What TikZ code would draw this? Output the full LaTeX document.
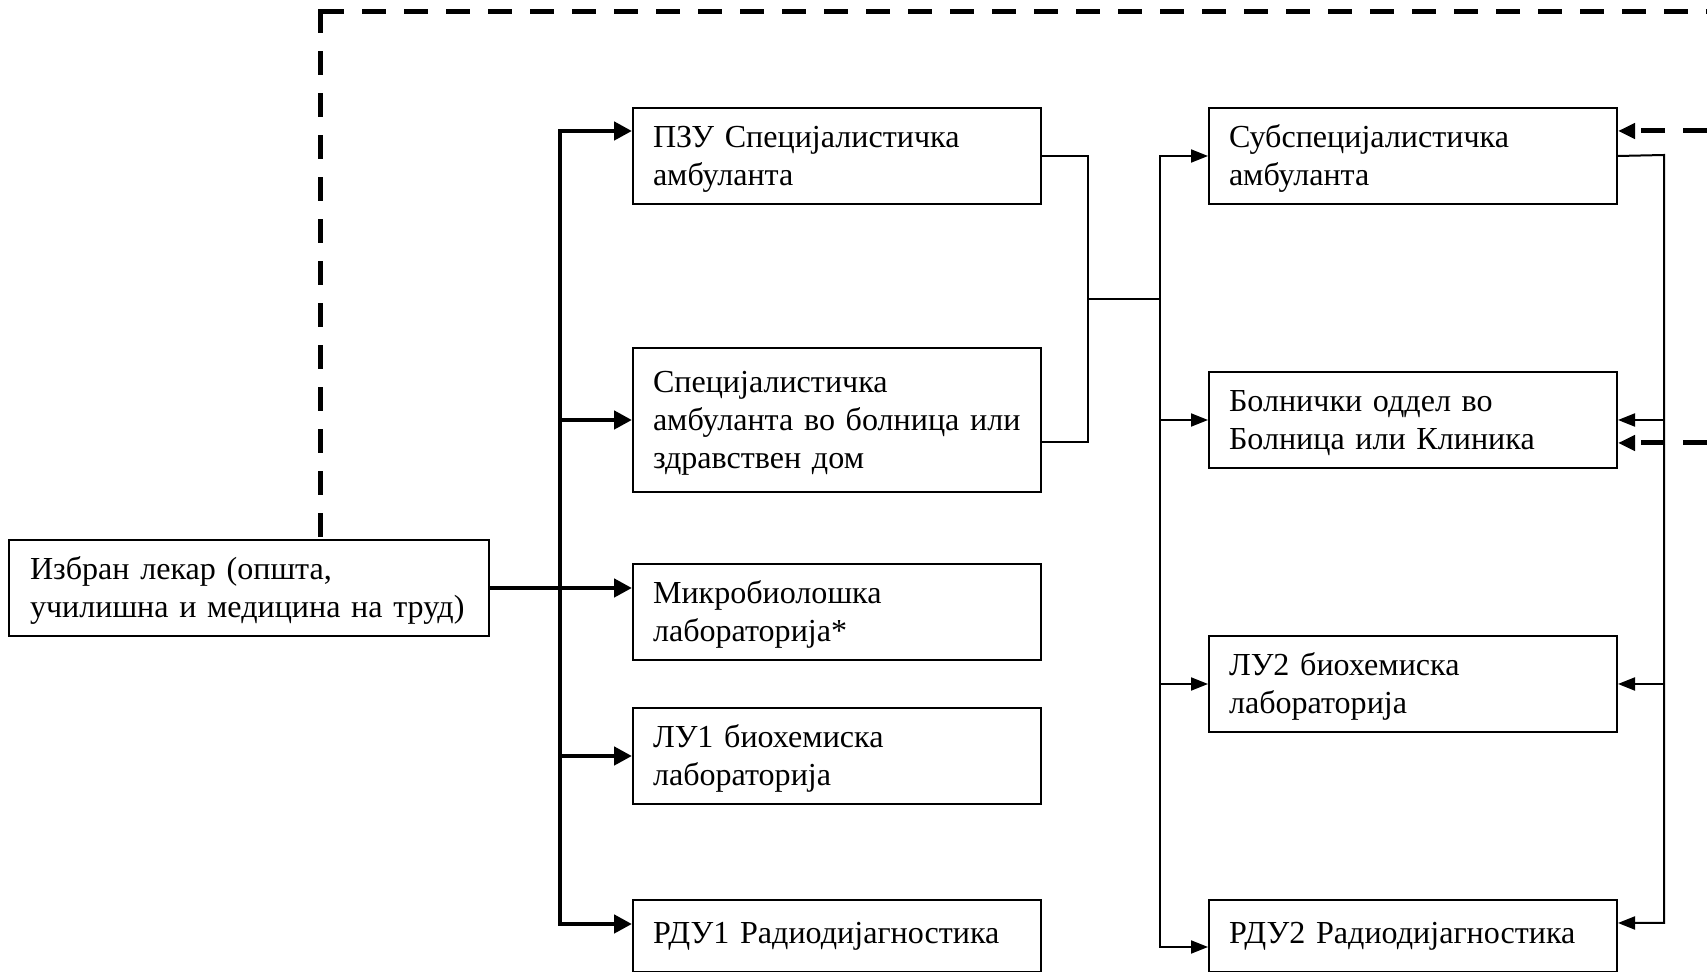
\documentclass[tikz,border=0pt]{standalone}
\usepackage{fontspec}
\setmainfont[WordSpace=0.7]{Liberation Serif}
\usetikzlibrary{arrows.meta,calc}
\begin{document}
\begin{tikzpicture}[x=0.36pt,y=-0.36pt,
  boxstyle/.style={draw,line width=0.72pt,rectangle,anchor=north west,align=left,
    inner xsep=7.2pt,inner ysep=0pt,text width=132.48pt,minimum height=34.56pt,
    font=\fontsize{11.55pt}{13.6pt}\selectfont},
  topfix/.style={execute at begin node={\rule{0pt}{10pt}}},
  thin/.style={line width=0.72pt},
  thinarr/.style={thin,-{Triangle[length=6.12pt,width=4.68pt]}},
  thinboth/.style={thin,{Triangle[length=6.12pt,width=4.68pt]}-{Triangle[length=6.12pt,width=4.68pt]}},
  thickline/.style={line width=1.62pt},
  thickarr/.style={thickline,-{Triangle[length=6.48pt,width=6.48pt]}},
  thickboth/.style={thickline,{Triangle[length=6.48pt,width=6.48pt]}-{Triangle[length=6.48pt,width=6.48pt]}},
  dashline/.style={line width=1.8pt,dash pattern=on 8.64pt off 6.48pt},
  dasharr/.style={dashline,-{Triangle[length=6.12pt,width=5.4pt]}}
]
\useasboundingbox (0,0) rectangle (1707,972);

% boxes, first column
\node[boxstyle,topfix] (pzu) at (632,107) {ПЗУ Специјалистичка\\амбуланта};
\node[boxstyle,topfix,minimum height=51.84pt] (spec) at (632,347) {Специјалистичка\\амбуланта во болница или\\здравствен дом};
\node[boxstyle,topfix] (mik) at (632,563) {Микробиолошка\\лабораторија*};
\node[boxstyle,topfix] (lu1) at (632,707) {ЛУ1 биохемиска\\лабораторија};
\node[boxstyle,minimum height=25.92pt] (rdu1) at (632,899) {РДУ1 Радиодијагностика};
% chosen doctor
\node[boxstyle,topfix,text width=157.68pt,inner xsep=7.56pt] (izb) at (8,539) {Избран лекар (општа,\\училишна и медицина на труд)};
% second column
\node[boxstyle,topfix] (sub) at (1208,107) {Субспецијалистичка\\амбуланта};
\node[boxstyle,topfix] (bol) at (1208,371) {Болнички оддел во\\Болница или Клиника};
\node[boxstyle,topfix] (lu2) at (1208,635) {ЛУ2 биохемиска\\лабораторија};
\node[boxstyle,minimum height=25.92pt] (rdu2) at (1208,899) {РДУ2 Радиодијагностика};

% thick bus from the chosen doctor
\coordinate (bT) at (560,131);
\coordinate (bB) at (560,924);
\draw[thickboth] (bT -| pzu.west) -- (bT) -- (bB) -- (bB -| rdu1.west);
\draw[thickarr] (bT |- spec.west) -- (spec.west);
\draw[thickarr] (bT |- lu1.west) -- (lu1.west);
\draw[thickarr] (izb.east) -- (izb.east -| mik.west);

% join of the two specialist boxes
\coordinate (j) at (1088,299);
\coordinate (specout) at ($(spec.north east)+(0,95)$);
\draw[thin] (pzu.east) -| (j) |- (specout);
\coordinate (rb) at (1160,299);
\draw[thin] (j) -- (rb);

% left bus of the second column
\coordinate (rdu2in) at ($(rdu2.north west)+(0,48)$);
\draw[thinboth] (sub.west) -- (sub.west -| rb) -- (rb |- rdu2in) -- (rdu2in);
\draw[thinarr] (rb |- bol.west) -- (bol.west);
\draw[thinarr] (rb |- lu2.west) -- (lu2.west);

% right bus of the second column
\coordinate (rv) at (1664,155);
\coordinate (rdu2r) at ($(rdu2.north east)+(0,24)$);
\draw[thinarr] (sub.east) -- (rv) -- (rv |- rdu2r) -- (rdu2r);
\draw[thinarr] (rv |- bol.east) -- (bol.east);
\draw[thinarr] (rv |- lu2.east) -- (lu2.east);

% dashed lines
\coordinate (c0) at (320,12);
\coordinate (e0) at (1707,12);
\draw[dashline] ($(c0)+(0,-2.5)$) -- (izb.north -| c0);
\draw[dashline] (c0) -- (e0);
\coordinate (e1) at (1707,131);
\coordinate (e2) at (1707,443);
\draw[dasharr] (e1) -- (e1 -| sub.east);
\draw[dasharr] (e2) -- (e2 -| bol.east);
\end{tikzpicture}
\end{document}
